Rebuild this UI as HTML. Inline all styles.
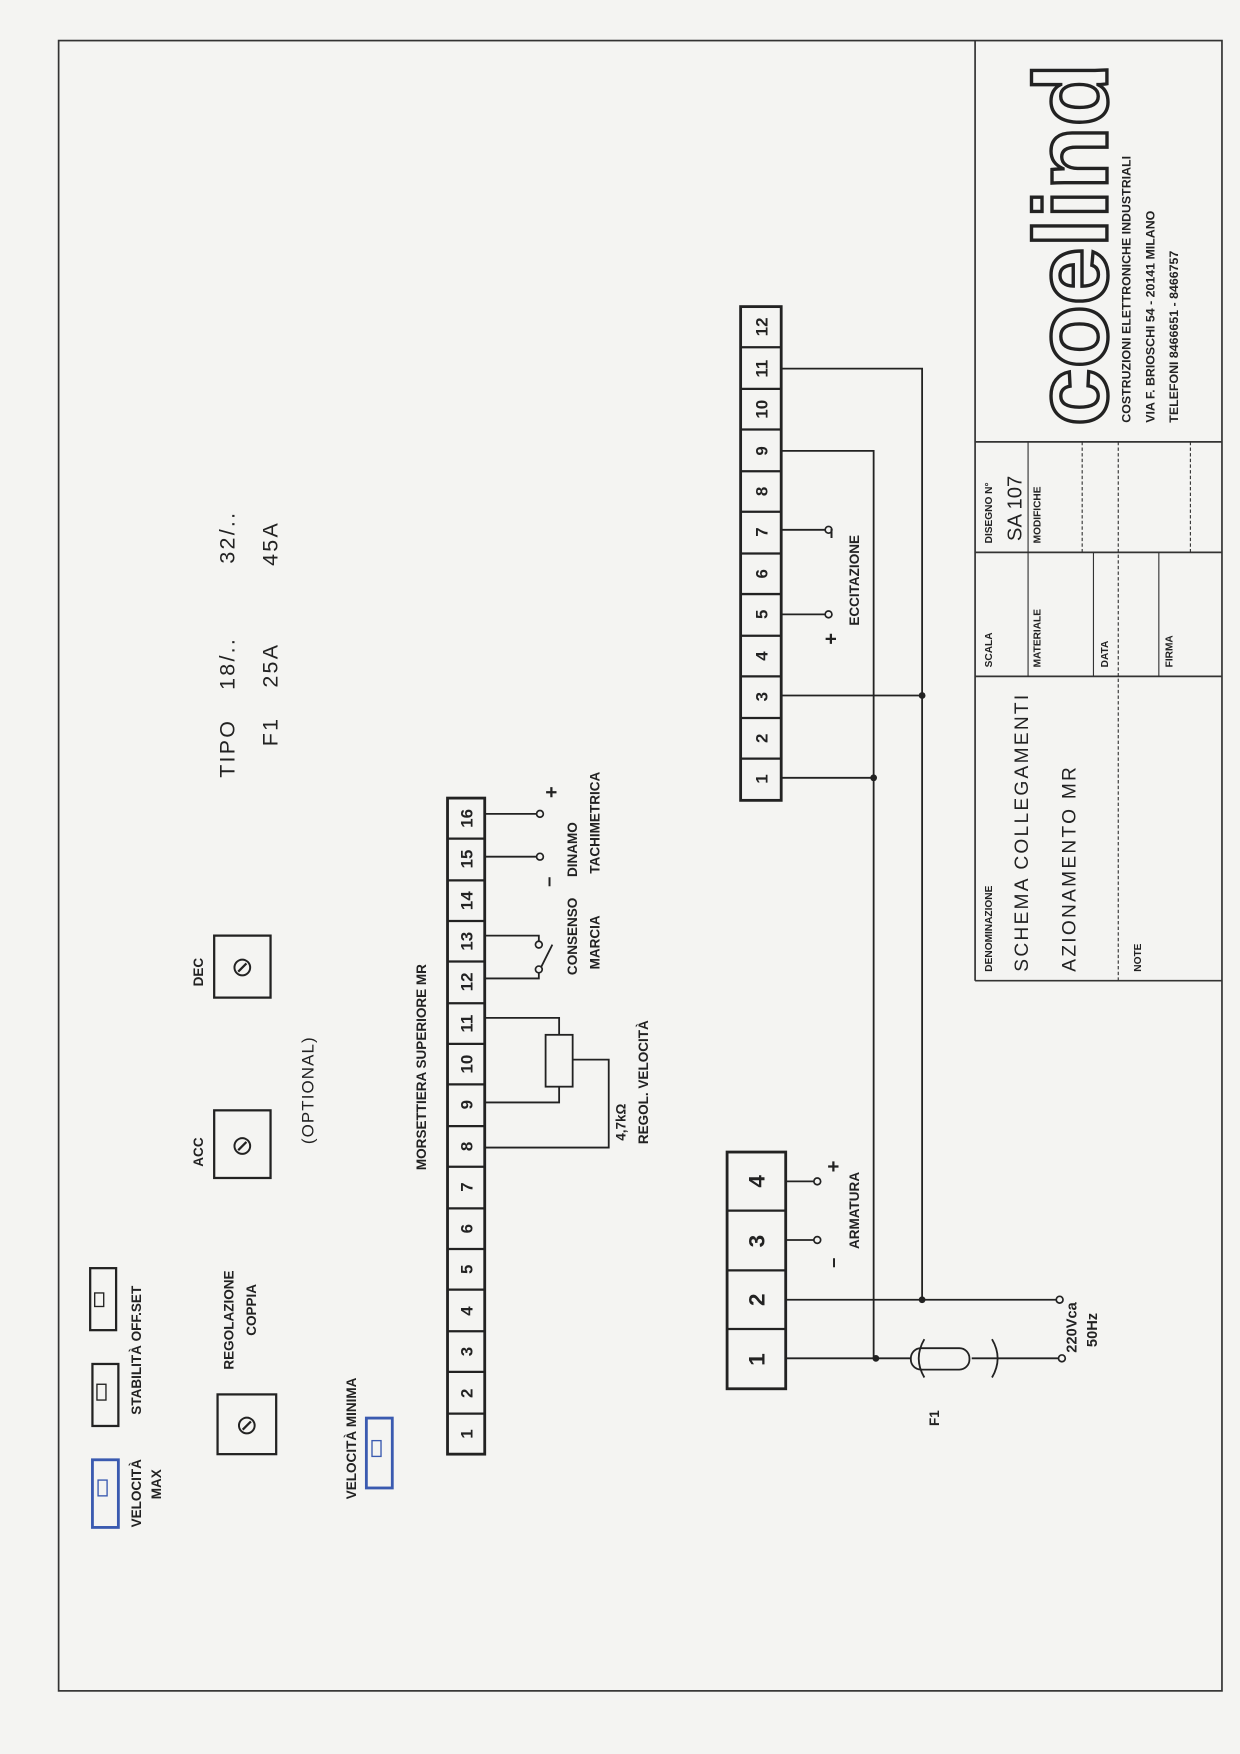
<!DOCTYPE html>
<html><head><meta charset="utf-8"><style>
html,body{margin:0;padding:0;background:#f4f4f2}
svg{display:block}
text{font-family:"Liberation Sans",sans-serif;fill:#222}
</style></head><body>
<svg width="1240" height="1754" viewBox="0 0 1100 1556" preserveAspectRatio="none" xmlns="http://www.w3.org/2000/svg">
<rect width="1100" height="1556" fill="#f4f4f2"/>
<g fill="none" stroke="#333" stroke-width="1.5">
<rect x="52" y="36" width="1032" height="1464"/>
<line x1="865" y1="36" x2="865" y2="870"/>
<line x1="865" y1="870" x2="1084" y2="870"/>
<line x1="865" y1="392" x2="1084" y2="392"/>
<line x1="865" y1="490" x2="1084" y2="490"/>
<line x1="865" y1="600" x2="1084" y2="600"/>
<line x1="912" y1="392" x2="912" y2="600" stroke-width="1"/>
<line x1="992" y1="392" x2="992" y2="870" stroke-width="1" stroke-dasharray="3 2"/>
<line x1="970" y1="490" x2="970" y2="600" stroke-width="1"/>
<line x1="1028" y1="490" x2="1028" y2="600" stroke-width="1"/>
<line x1="1056" y1="392" x2="1056" y2="490" stroke-width="1" stroke-dasharray="3 2"/>
<line x1="960" y1="392" x2="960" y2="490" stroke-width="1" stroke-dasharray="3 2"/>
</g>
<g font-size="9" font-weight="bold">
<text transform="translate(880,482) rotate(-90)">DISEGNO N°</text>
<text transform="translate(923,482) rotate(-90)">MODIFICHE</text>
<text transform="translate(880,592) rotate(-90)">SCALA</text>
<text transform="translate(923,592) rotate(-90)">MATERIALE</text>
<text transform="translate(880,862) rotate(-90)">DENOMINAZIONE</text>
<text transform="translate(983,592) rotate(-90)">DATA</text>
<text transform="translate(1040,592) rotate(-90)">FIRMA</text>
<text transform="translate(1012,862) rotate(-90)">NOTE</text>
</g>
<text transform="translate(906,480) rotate(-90)" font-size="18">SA 107</text>
<text transform="translate(912,862) rotate(-90)" font-size="17" letter-spacing="2">SCHEMA COLLEGAMENTI</text>
<text transform="translate(954,862) rotate(-90)" font-size="17" letter-spacing="2">AZIONAMENTO MR</text>
<text transform="translate(982,378) rotate(-90)" font-size="92" font-weight="bold" stroke="#222" stroke-width="3" style="fill:none">coelind</text>
<g font-size="11" font-weight="bold">
<text transform="translate(1003,375) rotate(-90)">COSTRUZIONI ELETTRONICHE INDUSTRIALI</text>
<text transform="translate(1024,375) rotate(-90)">VIA F. BRIOSCHI 54 - 20141 MILANO</text>
<text transform="translate(1045,375) rotate(-90)">TELEFONI 8466651 - 8466757</text>
</g>
<g fill="none" stroke="#222" stroke-width="2.5">
<rect x="397" y="708" width="33" height="582"/>
<rect x="657" y="272" width="36" height="438"/>
<rect x="645" y="1022" width="52" height="210"/>
</g>
<g stroke="#222" stroke-width="2">
<line x1="397" y1="744" x2="430" y2="744"/><line x1="397" y1="781" x2="430" y2="781"/><line x1="397" y1="817" x2="430" y2="817"/><line x1="397" y1="853" x2="430" y2="853"/><line x1="397" y1="890" x2="430" y2="890"/><line x1="397" y1="926" x2="430" y2="926"/><line x1="397" y1="962" x2="430" y2="962"/><line x1="397" y1="999" x2="430" y2="999"/><line x1="397" y1="1035" x2="430" y2="1035"/><line x1="397" y1="1072" x2="430" y2="1072"/><line x1="397" y1="1108" x2="430" y2="1108"/><line x1="397" y1="1144" x2="430" y2="1144"/><line x1="397" y1="1181" x2="430" y2="1181"/><line x1="397" y1="1217" x2="430" y2="1217"/><line x1="397" y1="1254" x2="430" y2="1254"/>
<line x1="657" y1="308" x2="693" y2="308"/><line x1="657" y1="345" x2="693" y2="345"/><line x1="657" y1="381" x2="693" y2="381"/><line x1="657" y1="418" x2="693" y2="418"/><line x1="657" y1="454" x2="693" y2="454"/><line x1="657" y1="491" x2="693" y2="491"/><line x1="657" y1="527" x2="693" y2="527"/><line x1="657" y1="564" x2="693" y2="564"/><line x1="657" y1="600" x2="693" y2="600"/><line x1="657" y1="637" x2="693" y2="637"/><line x1="657" y1="673" x2="693" y2="673"/>
<line x1="645" y1="1074" x2="697" y2="1074"/><line x1="645" y1="1127" x2="697" y2="1127"/><line x1="645" y1="1179" x2="697" y2="1179"/>
</g>
<g font-size="15" font-weight="bold" text-anchor="middle">
<text transform="translate(419,1272) rotate(-90)">1</text><text transform="translate(419,1236) rotate(-90)">2</text><text transform="translate(419,1199) rotate(-90)">3</text><text transform="translate(419,1163) rotate(-90)">4</text><text transform="translate(419,1126) rotate(-90)">5</text><text transform="translate(419,1090) rotate(-90)">6</text><text transform="translate(419,1053) rotate(-90)">7</text><text transform="translate(419,1017) rotate(-90)">8</text><text transform="translate(419,980) rotate(-90)">9</text><text transform="translate(419,944) rotate(-90)">10</text><text transform="translate(419,908) rotate(-90)">11</text><text transform="translate(419,871) rotate(-90)">12</text><text transform="translate(419,835) rotate(-90)">13</text><text transform="translate(419,799) rotate(-90)">14</text><text transform="translate(419,762) rotate(-90)">15</text><text transform="translate(419,726) rotate(-90)">16</text>
<text transform="translate(681,691) rotate(-90)">1</text><text transform="translate(681,655) rotate(-90)">2</text><text transform="translate(681,618) rotate(-90)">3</text><text transform="translate(681,582) rotate(-90)">4</text><text transform="translate(681,545) rotate(-90)">5</text><text transform="translate(681,509) rotate(-90)">6</text><text transform="translate(681,472) rotate(-90)">7</text><text transform="translate(681,436) rotate(-90)">8</text><text transform="translate(681,400) rotate(-90)">9</text><text transform="translate(681,363) rotate(-90)">10</text><text transform="translate(681,327) rotate(-90)">11</text><text transform="translate(681,290) rotate(-90)">12</text>
<text transform="translate(678,1206) rotate(-90)" font-size="20">1</text><text transform="translate(678,1153) rotate(-90)" font-size="20">2</text><text transform="translate(678,1101) rotate(-90)" font-size="20">3</text><text transform="translate(678,1048) rotate(-90)" font-size="20">4</text>
</g>
<g fill="none" stroke="#222" stroke-width="1.6">
<polyline points="693,327 818,327 818,1153"/>
<polyline points="693,400 775,400 775,1205"/>
<line x1="693" y1="690" x2="775" y2="690"/>
<line x1="693" y1="617" x2="818" y2="617"/>
<line x1="693" y1="545" x2="732" y2="545"/>
<line x1="693" y1="470" x2="732" y2="470"/>
<line x1="697" y1="1153" x2="937" y2="1153"/>
<line x1="697" y1="1205" x2="808" y2="1205"/>
<line x1="862" y1="1205" x2="940" y2="1205"/>
<line x1="697" y1="1100" x2="722" y2="1100"/>
<line x1="697" y1="1048" x2="722" y2="1048"/>
<rect x="808" y="1196" width="52" height="19" rx="9"/>
<path d="M820,1188 q-10,17 0,34"/><path d="M880,1188 q10,17 0,34"/>
<line x1="430" y1="722" x2="476" y2="722"/>
<line x1="430" y1="760" x2="476" y2="760"/>
<polyline points="430,830 478,830 478,835"/>
<polyline points="430,868 478,868 478,862"/>
<line x1="478" y1="862" x2="490" y2="838"/>
<polyline points="430,903 496,903 496,918"/>
<rect x="484" y="918" width="24" height="46"/>
<polyline points="430,978 496,978 496,964"/>
<polyline points="430,1018 540,1018 540,940 508,940"/>
</g>
<g fill="#f4f4f2" stroke="#222" stroke-width="1.5">
<circle cx="735" cy="545" r="3"/><circle cx="735" cy="470" r="3"/>
<circle cx="940" cy="1153" r="3"/><circle cx="942" cy="1205" r="3"/>
<circle cx="725" cy="1100" r="3"/><circle cx="725" cy="1048" r="3"/>
<circle cx="479" cy="722" r="3"/><circle cx="479" cy="760" r="3"/>
<circle cx="478" cy="838" r="3"/><circle cx="478" cy="860" r="3"/>
</g>
<g fill="#222"><circle cx="818" cy="617" r="3"/><circle cx="775" cy="690" r="3"/><circle cx="818" cy="1153" r="3"/><circle cx="777" cy="1205" r="3"/></g>
<g font-size="12" font-weight="bold">
<text transform="translate(743,572) rotate(-90)" font-size="18">+</text>
<text transform="translate(743,478) rotate(-90)" font-size="16">−</text>
<text transform="translate(762,555) rotate(-90)">ECCITAZIONE</text>
<text transform="translate(745,1040) rotate(-90)" font-size="18">+</text>
<text transform="translate(745,1125) rotate(-90)" font-size="16">−</text>
<text transform="translate(762,1108) rotate(-90)">ARMATURA</text>
<text transform="translate(833,1265) rotate(-90)">F1</text>
<text transform="translate(955,1200) rotate(-90)" font-size="13">220Vca</text>
<text transform="translate(973,1195) rotate(-90)" font-size="13">50Hz</text>
<text transform="translate(495,708) rotate(-90)" font-size="18">+</text>
<text transform="translate(493,787) rotate(-90)" font-size="16">−</text>
<text transform="translate(512,778) rotate(-90)">DINAMO</text>
<text transform="translate(532,775) rotate(-90)">TACHIMETRICA</text>
<text transform="translate(512,865) rotate(-90)">CONSENSO</text>
<text transform="translate(532,860) rotate(-90)">MARCIA</text>
<text transform="translate(555,1012) rotate(-90)">4,7kΩ</text>
<text transform="translate(575,1015) rotate(-90)">REGOL. VELOCITÀ</text>
<text transform="translate(378,1038) rotate(-90)">MORSETTIERA SUPERIORE MR</text>
<text transform="translate(180,1035) rotate(-90)">ACC</text>
<text transform="translate(180,875) rotate(-90)">DEC</text>
<text transform="translate(207,1215) rotate(-90)">REGOLAZIONE</text>
<text transform="translate(227,1185) rotate(-90)">COPPIA</text>
<text transform="translate(125,1355) rotate(-90)" fill="#2a4a9a">VELOCITÀ</text>
<text transform="translate(143,1330) rotate(-90)" fill="#2a4a9a">MAX</text>
<text transform="translate(125,1255) rotate(-90)">STABILITÀ OFF.SET</text>
<text transform="translate(316,1330) rotate(-90)" fill="#2a4a9a">VELOCITÀ MINIMA</text>
</g>
<text transform="translate(278,1015) rotate(-90)" font-size="15" letter-spacing="1">(OPTIONAL)</text>
<g font-size="19" letter-spacing="2">
<text transform="translate(208,690) rotate(-90)">TIPO</text>
<text transform="translate(208,612) rotate(-90)">18/..</text>
<text transform="translate(208,500) rotate(-90)">32/..</text>
<text transform="translate(246,662) rotate(-90)">F1</text>
<text transform="translate(246,610) rotate(-90)">25A</text>
<text transform="translate(246,502) rotate(-90)">45A</text>
</g>
<g fill="none" stroke="#222" stroke-width="2">
<rect x="190" y="985" width="50" height="60"/>
<rect x="190" y="830" width="50" height="55"/>
<rect x="193" y="1237" width="52" height="53"/>
<rect x="82" y="1210" width="23" height="55"/>
<rect x="80" y="1125" width="23" height="55"/>
<rect x="84" y="1147" width="8" height="12" stroke-width="1.2"/>
<rect x="86" y="1228" width="8" height="14" stroke-width="1.2"/>
</g>
<g fill="none" stroke="#3a5ab0" stroke-width="2.5">
<rect x="82" y="1295" width="23" height="60"/>
<rect x="325" y="1258" width="23" height="62"/>
<rect x="330" y="1278" width="8" height="14" stroke-width="1.2"/>
<rect x="87" y="1313" width="8" height="14" stroke-width="1.2"/>
</g>
<g font-size="24" text-anchor="middle">
<text x="215" y="1024">⊘</text><text x="215" y="866">⊘</text><text x="219" y="1272">⊘</text>
</g>
</svg>
</body></html>
